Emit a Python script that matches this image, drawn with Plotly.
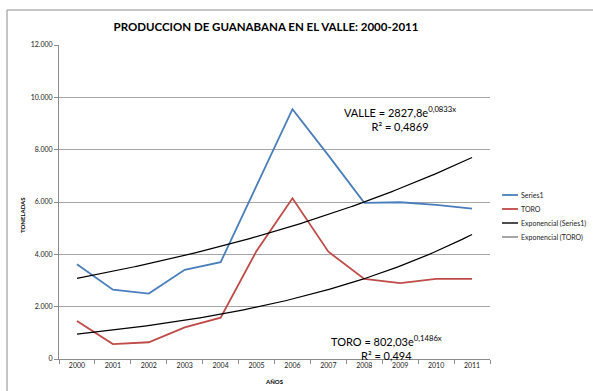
import numpy as np
import plotly.graph_objects as go

years = ["2000", "2001", "2002", "2003", "2004", "2005", "2006", "2007", "2008", "2009", "2010", "2011"]
valle = [3620, 2650, 2500, 3410, 3700, 6600, 9550, 7780, 5970, 5990, 5890, 5750]
toro = [1450, 570, 640, 1210, 1580, 4130, 6140, 4100, 3060, 2900, 3060, 3060]
names = ["Series1", "TORO", "Exponencial (Series1)", "Exponencial (TORO)"]
colors = ["#4a7ebb", "#be4b48", "#000000", "#7f7f7f"]
eq_valle = "VALLE = 2827,8e<sup>0,0833x</sup><br>R² = 0,4869"
eq_toro = "TORO = 802,03e<sup>0,1486x</sup><br>R² = 0,494"

FONT = "Lato"
W_, H_ = 593, 391
L, R, T, B = 59, 490, 45, 359
PW, PH = R - L, B - T


def px(x):
    return (x - L) / PW


def py(y):
    return (B - y) / PH


idx = np.arange(len(years))
xfine = np.linspace(0, len(years) - 1, 200)


def expfit(vals):
    xs = idx + 1
    b, lna = np.polyfit(xs, np.log(np.array(vals, dtype=float)), 1)
    return np.exp(lna) * np.exp(b * (xfine + 1))


fig = go.Figure()
fig.add_trace(go.Scatter(x=idx, y=valle, mode="lines", name=names[0],
                         line=dict(color=colors[0], width=1.8), showlegend=False))
fig.add_trace(go.Scatter(x=idx, y=toro, mode="lines", name=names[1],
                         line=dict(color=colors[1], width=1.8), showlegend=False))
fig.add_trace(go.Scatter(x=xfine, y=expfit(valle), mode="lines", name=names[2],
                         line=dict(color="#000000", width=1.2), showlegend=False))
fig.add_trace(go.Scatter(x=xfine, y=expfit(toro), mode="lines", name=names[3],
                         line=dict(color="#000000", width=1.2), showlegend=False))

shapes = [dict(type="rect", xref="paper", yref="paper",
               x0=px(7), x1=px(640), y0=py(440), y1=py(10),
               line=dict(color="#8c8c8c", width=1), fillcolor="rgba(0,0,0,0)", layer="below")]
annotations = []
leg_y = [195, 209, 223, 237]
for i, nm in enumerate(names):
    shapes.append(dict(type="line", xref="paper", yref="paper",
                       x0=px(502), x1=px(518), y0=py(leg_y[i]), y1=py(leg_y[i]),
                       line=dict(color=colors[i], width=1.8 if i < 2 else 1.4)))
    annotations.append(dict(x=px(519), y=py(leg_y[i]), xref="paper", yref="paper",
                            text=nm, showarrow=False, xanchor="left", yanchor="middle",
                            font=dict(family=FONT, size=7, color="#222")))

annotations += [
    dict(x=px(400), y=py(119), xref="paper", yref="paper", text=eq_valle, showarrow=False,
         xanchor="center", yanchor="middle", align="center",
         font=dict(family=FONT, size=11, color="#000")),
    dict(x=px(386), y=py(347), xref="paper", yref="paper", text=eq_toro, showarrow=False,
         xanchor="center", yanchor="middle", align="center",
         font=dict(family=FONT, size=11, color="#000")),
    dict(x=px(22), y=py(215), xref="paper", yref="paper", text="<b>TONELADAS</b>",
         showarrow=False, textangle=-90, xanchor="center", yanchor="middle",
         font=dict(family=FONT, size=6, color="#000")),
    dict(x=px(274), y=py(381), xref="paper", yref="paper", text="<b>AÑOS</b>",
         showarrow=False, xanchor="center", yanchor="middle",
         font=dict(family=FONT, size=6, color="#000")),
]

fig.update_layout(
    width=W_, height=H_,
    margin=dict(l=L, r=W_ - R, t=T, b=H_ - B, pad=0),
    paper_bgcolor="white", plot_bgcolor="white",
    separators=",.",
    title=dict(text="<b>PRODUCCION DE GUANABANA EN EL VALLE: 2000-2011</b>",
               x=266 / W_, xanchor="center", y=1 - 27 / H_, yanchor="middle",
               font=dict(family=FONT, size=11.5, color="#000")),
    shapes=shapes,
    annotations=annotations,
    showlegend=False,
)
fig.update_xaxes(range=[-0.5, len(years) - 0.5], tickmode="array", tickvals=list(idx),
                 ticktext=years, ticks="", showgrid=False, zeroline=False,
                 showline=True, linecolor="#8c8c8c", linewidth=1,
                 tickfont=dict(family=FONT, size=7, color="#222"),
                 minor=dict(tickmode="array", tickvals=[i - 0.5 for i in range(len(years) + 1)],
                            ticks="outside", ticklen=4, tickcolor="#8c8c8c", showgrid=False))
fig.update_yaxes(range=[0, 12000], dtick=2000, tickformat=",d", showgrid=True,
                 gridcolor="#a6a6a6", gridwidth=1, zeroline=False,
                 showline=True, linecolor="#8c8c8c", linewidth=1,
                 ticks="outside", ticklen=4, tickcolor="#8c8c8c",
                 tickfont=dict(family=FONT, size=7, color="#222"))

fig.write_html("out.html")
